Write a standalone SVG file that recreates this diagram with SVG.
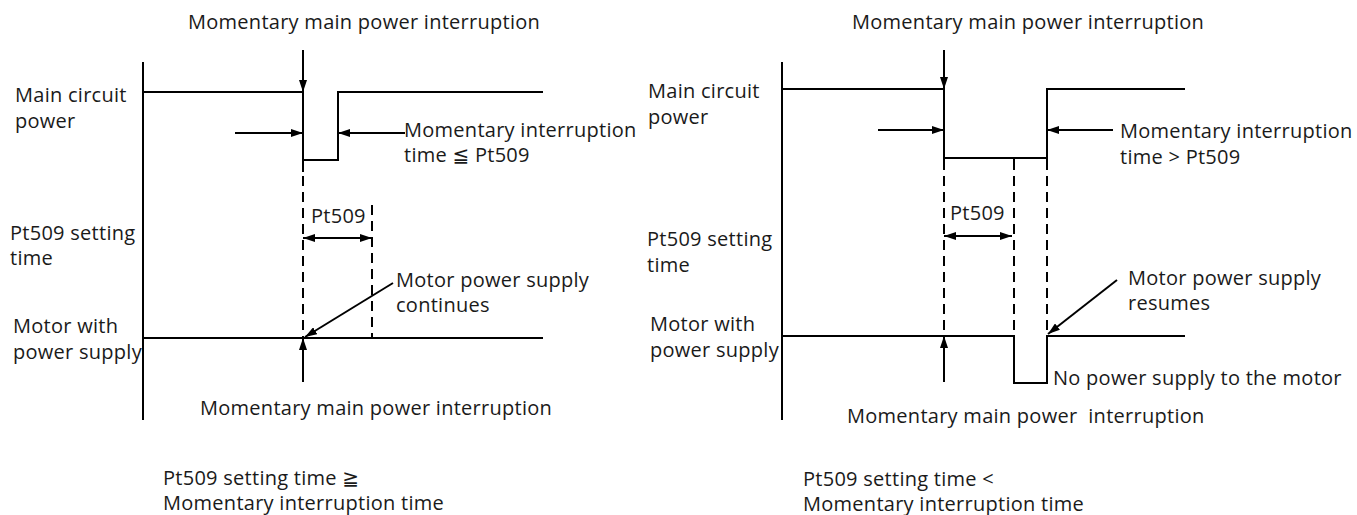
<svg xmlns="http://www.w3.org/2000/svg" width="1357" height="515" viewBox="0 0 1357 515">
<defs>
<marker id="ah" viewBox="0 0 12 8" refX="12" refY="4" markerWidth="12" markerHeight="8" markerUnits="userSpaceOnUse" orient="auto-start-reverse">
<path d="M0,0 L12,4 L0,8 Z" fill="#000"/>
</marker>
</defs>
<style>
text{font-family:"Open Sans","Noto Sans","DejaVu Sans",sans-serif;font-size:20px;letter-spacing:0.27px;fill:#1a1a1a}
.ln{stroke:#000;stroke-width:2;fill:none}
.ds{stroke:#000;stroke-width:2;fill:none;stroke-dasharray:10 6}
.ar{stroke:#000;stroke-width:2;fill:none;marker-end:url(#ah)}
.da{stroke:#000;stroke-width:2;fill:none;marker-end:url(#ah);marker-start:url(#ah)}
</style>
<rect width="1357" height="515" fill="#fff"/>

<g id="left-diagram">
<g id="left-labels">
<text x="188" y="29">Momentary main power interruption</text>
<text x="15" y="102">Main circuit</text>
<text x="15" y="128">power</text>
<text x="10" y="240">Pt509 setting</text>
<text x="10" y="265">time</text>
<text x="13" y="333">Motor with</text>
<text x="13" y="359">power supply</text>
<text x="404" y="137">Momentary interruption</text>
<text x="404" y="162">time ≦ Pt509</text>
<text x="311" y="223">Pt509</text>
<text x="396" y="287">Motor power supply</text>
<text x="396" y="312">continues</text>
<text x="200" y="415">Momentary main power interruption</text>
<text x="163" y="485">Pt509 setting time ≧</text>
<text x="163" y="510">Momentary interruption time</text>
</g>
<g id="left-signals">
<path class="ln" d="M143,62 V420"/>
<path class="ln" d="M143,92 H303 V160 H338 V92 H543"/>
<path class="ln" d="M303,92 V172"/>
<path class="ln" d="M143,338 H543"/>
</g>
<g id="left-connectors">
<path class="ar" d="M303,50 V92"/>
<path class="ar" d="M235,133 H303"/>
<path class="ar" d="M405,133 H338"/>
<path class="ds" d="M303,176 V338"/>
<path class="ds" d="M372,205 V338"/>
<path class="da" d="M303,238 H372"/>
<path class="ar" d="M303,382 V338"/>
<path class="ar" d="M393,283 L305,337"/>
</g>
</g>

<g id="right-diagram">
<g id="right-labels">
<text x="852" y="29">Momentary main power interruption</text>
<text x="648" y="98">Main circuit</text>
<text x="648" y="124">power</text>
<text x="647" y="246">Pt509 setting</text>
<text x="647" y="272">time</text>
<text x="650" y="331">Motor with</text>
<text x="650" y="357">power supply</text>
<text x="1120" y="138">Momentary interruption</text>
<text x="1120" y="164">time &gt; Pt509</text>
<text x="950" y="220">Pt509</text>
<text x="1128" y="285">Motor power supply</text>
<text x="1128" y="310">resumes</text>
<text x="1053" y="385">No power supply to the motor</text>
<text x="847" y="423" xml:space="preserve">Momentary main power  interruption</text>
<text x="803" y="486">Pt509 setting time &lt;</text>
<text x="803" y="511">Momentary interruption time</text>
</g>
<g id="right-signals">
<path class="ln" d="M782,62 V420"/>
<path class="ln" d="M782,89 H944 V158 H1047 V89 H1185"/>
<path class="ln" d="M944,158 V170 M1014,158 V170 M1047,158 V170"/>
<path class="ln" d="M782,336 H1014 V383 H1047 V336 H1185"/>
</g>
<g id="right-connectors">
<path class="ar" d="M944,50 V89"/>
<path class="ar" d="M878,130 H944"/>
<path class="ar" d="M1113,130 H1047"/>
<path class="ds" d="M944,176 V336"/>
<path class="ds" d="M1014,176 V336"/>
<path class="ds" d="M1047,176 V336"/>
<path class="da" d="M944,236 H1012"/>
<path class="ar" d="M944,382 V336"/>
<path class="ar" d="M1117,280 L1048,334"/>
</g>
</g>
</svg>
